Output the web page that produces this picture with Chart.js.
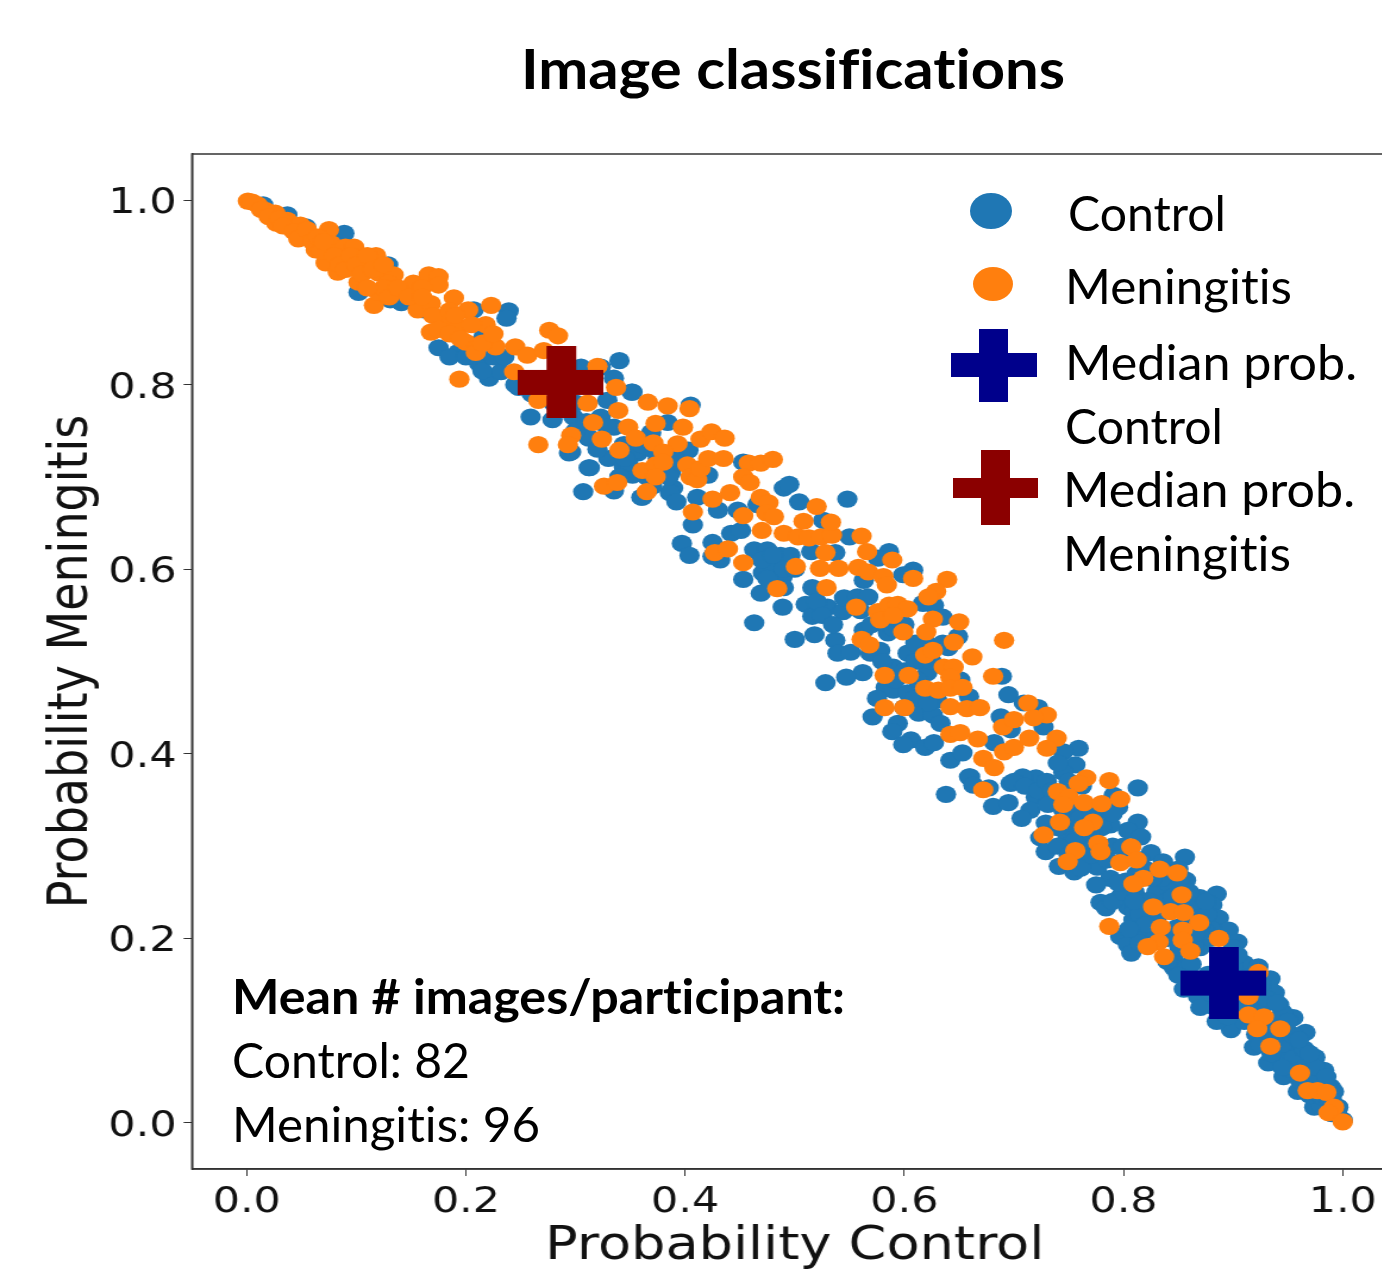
<!DOCTYPE html>
<html>
<head>
<meta charset="utf-8">
<title>Image classifications</title>
<script src="https://cdn.jsdelivr.net/npm/chart.js@4"></script>
<style>
  html, body { margin: 0; padding: 0; background: #fff; overflow: hidden; }
  #page { position: relative; width: 1382px; height: 1270px; overflow: hidden; }
  /* the original figure was pasted in wider than tall, so the plot is stretched sideways */
  #plot { position: absolute; left: 0; top: 0; transform: scaleX(1.19); transform-origin: 0 0; }
  #overlay { position: absolute; left: 0; top: 0; pointer-events: none; }
  #overlay text { font-family: Lato, sans-serif; fill: #000; font-size: 48px; font-variant-ligatures: none; }
  #overlay .bold { font-weight: 700; }
</style>
</head>
<body>
<div id="page">
  <canvas id="plot" width="1183" height="1270"></canvas>
  <svg id="overlay" width="1382" height="1270" viewBox="0 0 1382 1270">
    <text class="bold" x="521" y="89" style="font-size:56px" textLength="544" lengthAdjust="spacingAndGlyphs">Image classifications</text>

    <ellipse cx="991" cy="211" rx="21" ry="18" fill="#1f77b4"/>
    <ellipse cx="993" cy="284" rx="20" ry="17" fill="#ff7f0e"/>
    <path d="M979 329H1008V353H1037V377H1008V402H979V377H951V353H979Z" fill="#00008b"/>
    <path d="M981 450H1010V478H1038V498H1010V525H981V498H953V478H981Z" fill="#8b0000"/>

    <text x="1068" y="231" textLength="158" lengthAdjust="spacingAndGlyphs">Control</text>
    <text x="1065" y="304" textLength="227" lengthAdjust="spacingAndGlyphs">Meningitis</text>
    <text x="1065" y="380" textLength="292" lengthAdjust="spacingAndGlyphs">Median prob.</text>
    <text x="1065" y="444" textLength="158" lengthAdjust="spacingAndGlyphs">Control</text>
    <text x="1063" y="507" textLength="292" lengthAdjust="spacingAndGlyphs">Median prob.</text>
    <text x="1063" y="571" textLength="228" lengthAdjust="spacingAndGlyphs">Meningitis</text>

    <text class="bold" x="232" y="1014" textLength="613" lengthAdjust="spacingAndGlyphs">Mean # images/participant:</text>
    <text x="232" y="1078" textLength="238" lengthAdjust="spacingAndGlyphs">Control: 82</text>
    <text x="232" y="1142" textLength="308" lengthAdjust="spacingAndGlyphs">Meningitis: 96</text>
  </svg>
</div>
<script>
const xTicks = [0, 0.2, 0.4, 0.6, 0.8, 1];
const yTicks = [0, 0.2, 0.4, 0.6, 0.8, 1];

const medianControl = [[0.891, 0.152]];
const medianMeningitis = [[0.2865, 0.803]];

// [P(control), P(meningitis)], one image per pair
const controlPoints = [
  [.015,.995],[.037,.984],[.054,.971],[.089,.964],[.07,.945],[.11,.93],[.102,.900],[.129,.930],[.131,.892],[.141,.889],
  [.15,.895],[.162,.881],[.175,.840],[.193,.835],[.212,.823],[.221,.807],[.232,.814],[.216,.852],[.207,.881],[.239,.880],
  [.237,.872],[.248,.797],[.259,.765],[.279,.762],[.296,.727],[.312,.710],[.307,.684],[.312,.742],[.340,.826],[.335,.807],
  [.352,.792],[.323,.819],[.305,.819],[.330,.720],[.335,.685],[.361,.678],[.344,.711],[.352,.702],[.357,.726],[.335,.754],
  [.298,.765],[.329,.783],[.351,.792],[.405,.778],[.384,.759],[.323,.765],[.312,.743],[.329,.754],[.294,.726],[.313,.710],
  [.348,.715],[.344,.735],[.355,.729],[.369,.748],[.403,.729],[.387,.705],[.421,.702],[.453,.716],[.360,.678],[.389,.688],
  [.386,.683],[.392,.673],[.411,.678],[.430,.664],[.448,.664],[.407,.648],[.397,.628],[.404,.615],[.425,.629],[.425,.614],
  [.432,.610],[.442,.639],[.451,.642],[.463,.621],[.471,.596],[.453,.589],[.469,.574],[.489,.559],[.463,.542],[.489,.592],
  [.481,.601],[.475,.621],[.487,.615],[.496,.615],[.515,.619],[.537,.618],[.466,.670],[.490,.688],[.495,.692],[.504,.673],
  [.548,.676],[.526,.653],[.550,.635],[.586,.619],[.576,.612],[.608,.599],[.599,.594],[.563,.588],[.516,.580],[.510,.562],
  [.516,.549],[.530,.559],[.544,.554],[.545,.569],[.557,.570],[.567,.570],[.617,.563],[.627,.561],[.635,.548],[.649,.527],
  [.640,.515],[.563,.534],[.585,.531],[.590,.536],[.500,.524],[.518,.529],[.537,.523],[.539,.509],[.551,.510],[.569,.509],
  [.578,.512],[.603,.509],[.590,.494],[.562,.488],[.547,.483],[.528,.477],[.583,.472],[.590,.469],[.603,.466],[.621,.488],
  [.651,.480],[.659,.462],[.695,.464],[.689,.484],[.630,.458],[.613,.444],[.626,.442],[.571,.440],[.594,.433],[.589,.424],
  [.606,.415],[.599,.410],[.619,.407],[.627,.412],[.642,.393],[.653,.401],[.659,.375],[.682,.412],[.633,.433],[.688,.440],
  [.709,.455],[.722,.450],[.727,.429],[.697,.426],[.759,.406],[.745,.402],[.756,.388],[.745,.380],[.720,.374],[.708,.375],
  [.697,.368],[.660,.375],[.663,.366],[.677,.363],[.638,.356],[.681,.343],[.695,.347],[.720,.353],[.715,.339],[.707,.330],
  [.813,.363],[.791,.355],[.795,.342],[.745,.339],[.758,.342],[.813,.326],[.804,.317],[.788,.323],[.729,.325],[.724,.309],
  [.749,.310],[.729,.294],[.741,.278],[.755,.272],[.776,.277],[.788,.265],[.816,.310],[.825,.293],[.836,.283],[.856,.288],
  [.857,.263],[.843,.252],[.797,.245],[.779,.239],[.784,.233],[.804,.234],[.809,.220],[.797,.202],[.804,.193],[.807,.184],
  [.822,.209],[.870,.244],[.885,.248],[.881,.236],[.887,.222],[.896,.209],[.904,.196],[.859,.234],[.846,.177],[.910,.173],
  [.846,.168],[.859,.155],[.868,.137],[.882,.126],[.898,.101],[.932,.147],[.942,.128],[.948,.112],[.959,.092],[.968,.076],
  [.978,.055],[.989,.039],[.996,.017],[.919,.082],[.932,.065],[.946,.050],[.959,.034],[.974,.017],[.950,.087],[.962,.057],
  [.919,.133],[.919,.108],[.81,.25],[.83,.25],[.84,.26],[.86,.25],[.87,.23],[.88,.21],[.86,.21],[.84,.20],
  [.83,.22],[.81,.23],[.76,.31],[.77,.30],[.79,.30],[.80,.30],[.78,.32],[.76,.29],[.93,.11],[.94,.10],
  [.95,.07],[.96,.07],[.97,.06],[.98,.04],[.94,.08],[.93,.09],[.91,.11],[.90,.12],[.92,.125],[.98,.02],
  [.99,.01],[1.0,.003],[.97,.03],[.88,.14],[.89,.16],[.90,.17],[.87,.19],[.88,.20],[.90,.19],[.86,.20],
  // solid part of the tail
  [.903,.135],[.899,.153],[.904,.182],[.912,.118],[.909,.141],[.913,.158],[.921,.096],[.918,.152],[.923,.169],[.931,.104],
  [.928,.128],[.934,.156],[.941,.072],[.943,.112],[.938,.141],[.952,.058],[.949,.098],[.955,.114],[.961,.046],[.958,.078],
  [.966,.098],[.969,.044],[.975,.071],[.981,.028],[.983,.057],[.988,.022],[.992,.034],[.877,.161],[.874,.208],[.876,.226],
  [.862,.172],[.864,.192],[.858,.222],[.851,.19],[.849,.212],[.853,.243],[.852,.266],
  [.925,.085],[.935,.095],[.945,.085],[.955,.07],[.965,.06],[.975,.05],[.985,.04],[.955,.095],[.965,.08],[.975,.06],
  [.945,.06],[.935,.075],[.93,.135],[.945,.12],[.92,.11],[.91,.125],[.905,.15],[.95,.11],[.96,.09],[.97,.075],
  [.985,.05],[.99,.025],[.995,.01],[.925,.15],[.94,.13],
  // middle of the cloud, mostly behind the orange
  [.79,.24],[.812,.208],[.822,.241],[.815,.226],[.83,.27],[.84,.241],[.85,.275],[.802,.262],[.775,.258],
  [.865,.24],[.875,.24],[.87,.215],[.865,.205],[.845,.245],[.835,.265],[.815,.285],[.82,.275],[.80,.25],[.795,.26],
  [.81,.24],[.82,.215],[.815,.195],[.805,.21],[.84,.175],[.85,.16],[.855,.145],[.87,.125],[.885,.11],[.895,.115],
  [.75,.325],[.76,.33],[.77,.315],[.775,.335],[.79,.335],[.74,.32],[.755,.305],
  [.70,.37],[.71,.365],[.722,.36],[.73,.37],[.735,.36],[.731,.345],[.74,.39],[.75,.37],[.762,.365],
  [.74,.30],[.75,.29],[.761,.276],[.771,.29],[.785,.285],[.80,.285],[.812,.27],[.826,.265],
  [.58,.50],[.60,.49],[.61,.50],[.612,.48],[.592,.48],[.575,.46],[.61,.46],[.622,.455],[.60,.45],
  [.52,.565],[.525,.55],[.535,.54],[.56,.555],[.57,.54],[.60,.54],[.62,.52],[.61,.52],[.625,.50],[.635,.52],
  [.47,.61],[.48,.615],[.49,.60],[.50,.60],[.475,.59],[.49,.58],
  [.37,.73],[.36,.735],[.375,.72],[.39,.72],[.365,.70],[.385,.70],[.37,.69],
  [.185,.83],[.20,.83],[.215,.815],[.225,.83],[.235,.83],[.245,.80],[.26,.79],[.28,.78],[.30,.75],[.31,.76],[.30,.78],[.32,.73],[.34,.70],[.345,.72]
];

const meningitisPoints = [
  [.001,.999],[.010,.995],[.017,.989],[.026,.986],[.027,.975],[.037,.978],[.040,.970],[.049,.973],[.054,.960],[.063,.946],
  [.075,.968],[.077,.953],[.072,.932],[.083,.922],[.090,.949],[.098,.949],[.092,.935],[.102,.911],[.118,.940],[.107,.927],
  [.120,.921],[.134,.919],[.116,.886],[.120,.900],[.129,.910],[.143,.902],[.152,.910],[.166,.919],[.175,.917],[.175,.908],
  [.156,.881],[.168,.888],[.168,.857],[.189,.894],[.180,.870],[.202,.881],[.193,.862],[.200,.846],[.209,.835],[.218,.865],
  [.223,.886],[.227,.841],[.245,.841],[.256,.832],[.244,.814],[.271,.837],[.276,.859],[.284,.853],[.320,.820],[.314,.805],
  [.266,.783],[.194,.806],[.266,.735],
  // dense head of the band
  [.005,.998],[.013,.99],[.02,.982],[.03,.98],[.033,.972],[.043,.966],[.047,.958],[.055,.968],[.06,.955],[.065,.96],
  [.068,.945],[.07,.955],[.08,.94],[.085,.93],[.09,.925],[.095,.94],[.10,.93],[.105,.92],[.11,.94],[.115,.925],
  [.125,.93],[.125,.905],[.13,.895],[.11,.905],[.138,.905],[.148,.895],[.16,.905],[.16,.895],[.17,.875],[.185,.88],
  [.19,.875],[.175,.86],[.185,.855],[.205,.865],[.195,.85],[.215,.845],[.225,.855],
  [.337,.797],[.311,.780],[.316,.759],[.339,.772],[.366,.781],[.384,.777],[.404,.774],[.398,.754],[.373,.758],[.348,.754],
  [.355,.742],[.296,.745],[.293,.735],[.324,.741],[.340,.729],[.371,.737],[.393,.736],[.380,.727],[.361,.707],[.373,.713],
  [.380,.716],[.373,.700],[.402,.713],[.405,.700],[.411,.697],[.414,.709],[.421,.720],[.435,.720],[.414,.741],[.424,.749],
  [.436,.742],[.458,.715],[.469,.715],[.480,.719],[.453,.700],[.459,.694],[.326,.690],[.338,.694],[.365,.684],[.425,.676],
  [.441,.683],[.407,.662],[.453,.658],[.469,.678],[.476,.672],[.474,.661],[.481,.657],[.470,.642],[.490,.639],[.503,.635],
  [.513,.634],[.524,.635],[.534,.637],[.508,.652],[.533,.651],[.520,.668],[.561,.636],[.566,.619],[.528,.618],[.523,.601],
  [.540,.601],[.558,.602],[.567,.597],[.581,.592],[.584,.583],[.589,.610],[.608,.590],[.639,.589],[.629,.576],[.622,.570],
  [.501,.603],[.453,.607],[.427,.618],[.439,.622],[.484,.579],[.529,.580],[.556,.559],[.576,.554],[.586,.561],[.594,.562],
  [.603,.557],[.578,.545],[.590,.550],[.626,.546],[.620,.532],[.599,.532],[.650,.543],[.645,.521],[.691,.523],[.662,.505],
  [.681,.484],[.561,.524],[.568,.518],[.619,.507],[.626,.512],[.636,.494],[.645,.494],[.642,.483],[.619,.471],[.631,.469],
  [.642,.471],[.653,.472],[.582,.485],[.604,.485],[.582,.450],[.600,.450],[.642,.451],[.657,.449],[.669,.450],[.642,.421],
  [.651,.423],[.667,.416],[.672,.395],[.682,.385],[.691,.402],[.690,.429],[.700,.437],[.700,.407],
  [.713,.455],[.730,.442],[.718,.439],[.714,.417],[.739,.417],[.730,.406],[.766,.374],[.759,.368],[.787,.371],[.740,.359],
  [.750,.353],[.745,.345],[.764,.347],[.780,.346],[.797,.351],[.672,.361],[.742,.326],[.772,.326],[.764,.320],[.727,.312],
  [.777,.303],[.756,.295],[.749,.283],[.779,.294],[.807,.299],[.797,.282],[.812,.285],[.833,.275],[.849,.271],[.818,.265],
  [.809,.259],[.853,.247],[.827,.234],[.843,.229],[.855,.228],[.869,.217],[.834,.212],[.854,.209],[.787,.213],[.887,.200],
  [.854,.198],[.832,.196],[.822,.191],[.861,.186],[.837,.180],[.923,.163],[.914,.137],[.914,.117],[.928,.115],[.922,.102],
  [.943,.102],[.934,.083],[.961,.054],[.968,.035],[.977,.035],[.985,.033],[.992,.017],[.987,.011],[1.0,.001]
];

// matplotlib's filled plus ('P') — Chart.js has no filled plus, so a small sprite
function plusSprite(color) {
  const c = document.createElement('canvas');
  c.width = 72;
  c.height = 72;
  const g = c.getContext('2d');
  g.fillStyle = color;
  g.fillRect(24, 0, 25, 72);
  g.fillRect(0, 24, 72, 25);
  return c;
}

const toXY = (pairs) => pairs.map(([x, y]) => ({ x, y }));

const frame = {
  id: 'frame',
  afterDraw(chart) {
    const { left, top, right, bottom } = chart.chartArea;
    const ctx = chart.ctx;
    ctx.save();
    ctx.strokeStyle = '#333';
    ctx.lineWidth = 1.5;
    ctx.strokeRect(left, top, right - left, bottom - top);
    ctx.restore();
  }
};

const axisBase = {
  type: 'linear',
  min: -0.05,
  max: 1.05,
  border: { color: '#333', width: 1.5 },
  grid: { drawOnChartArea: false, drawTicks: true, tickLength: 7, color: '#333' }
};
const tickOpts = {
  color: '#111',
  padding: 6,
  maxRotation: 0,
  autoSkip: false,
  font: { family: 'DejaVu Sans', size: 36 },
  callback: (value) => value.toFixed(1)
};

new Chart(document.getElementById('plot'), {
  type: 'scatter',
  data: {
    datasets: [
      { label: 'Median prob. Meningitis', order: 1, data: toXY(medianMeningitis), pointStyle: plusSprite('#8b0000') },
      { label: 'Median prob. Control', order: 2, data: toXY(medianControl), pointStyle: plusSprite('#00008b') },
      { label: 'Meningitis', order: 3, data: toXY(meningitisPoints), backgroundColor: '#ff7f0e', pointRadius: 8.6, borderWidth: 0 },
      { label: 'Control', order: 4, data: toXY(controlPoints), backgroundColor: '#1f77b4', pointRadius: 8.6, borderWidth: 0 }
    ]
  },
  options: {
    responsive: false,
    animation: false,
    devicePixelRatio: 1,
    layout: { padding: { top: 154, right: 2, left: 0, bottom: 0 } },
    plugins: { legend: { display: false }, tooltip: { enabled: false } },
    elements: { point: { borderWidth: 0 } },
    scales: {
      x: {
        ...axisBase,
        ticks: { ...tickOpts, padding: 5 },
        afterBuildTicks: (scale) => { scale.ticks = xTicks.map((value) => ({ value })); },
        afterFit: (scale) => { scale.height = 101; },
        title: { display: true, text: 'Probability Control', color: '#111', font: { family: 'DejaVu Sans', size: 45.5, lineHeight: 1 }, padding: { top: 0, bottom: 0 } }
      },
      y: {
        ...axisBase,
        ticks: { ...tickOpts, labelOffset: 3.5 },
        afterBuildTicks: (scale) => { scale.ticks = yTicks.map((value) => ({ value })); },
        afterFit: (scale) => { scale.width = 161.3; },
        title: { display: true, text: 'Probability Meningitis', color: '#111', font: { family: 'DejaVu Sans', size: 46, lineHeight: 1 }, padding: { top: 38, bottom: 0 } }
      }
    }
  },
  plugins: [frame]
});
</script>
</body>
</html>
